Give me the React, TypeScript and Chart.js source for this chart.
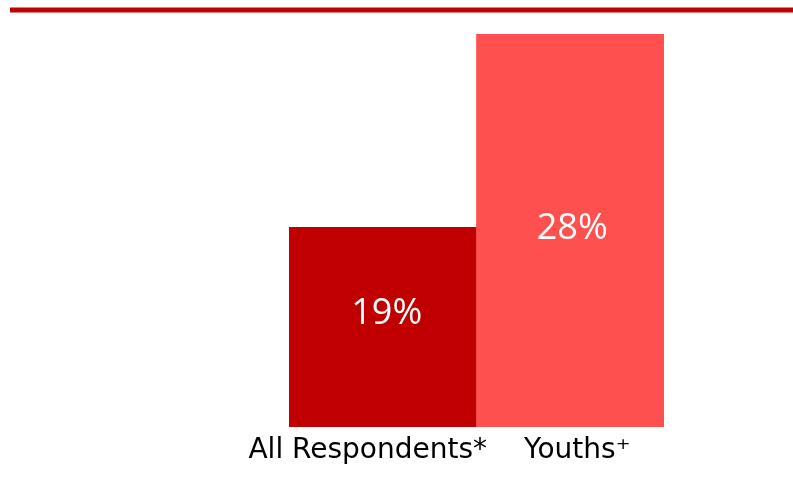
import React, { useEffect, useRef } from "react";
import { Chart, registerables } from "chart.js";

Chart.register(...registerables);

const categories = ["All Respondents*", "Youths\u207A"];
const values = [19, 28];
const valueLabels = ["19%", "28%"];
const barColors = ["#C00000", "#FF5050"];

const VALUE_FONT = "'Open Sans', sans-serif";
const CAT_FONT = "'DejaVu Sans', sans-serif";
const catOffsets = [-15, 7];
const valOffsets = [
  [4, -13],
  [2, -2],
];

const decorPlugin = {
  id: "decor",
  beforeDraw(chart: any) {
    const ctx = chart.ctx;
    ctx.save();
    ctx.fillStyle = "#ffffff";
    ctx.fillRect(0, 0, chart.width, chart.height);
    ctx.strokeStyle = "#C00000";
    ctx.lineWidth = 5;
    ctx.beginPath();
    ctx.moveTo(10, 10);
    ctx.lineTo(chart.width, 10);
    ctx.stroke();
    ctx.restore();
  },
  afterDatasetsDraw(chart: any) {
    const ctx = chart.ctx;
    const meta = chart.getDatasetMeta(0);
    const xScale = chart.scales.x;
    const bottom = chart.chartArea.bottom;
    ctx.save();
    ctx.textAlign = "center";
    meta.data.forEach((bar: any, i: number) => {
      const props = bar.getProps(["x", "y"], true);
      ctx.fillStyle = "#ffffff";
      ctx.font = `36px ${VALUE_FONT}`;
      ctx.textBaseline = "middle";
      ctx.fillText(
        valueLabels[i],
        props.x + valOffsets[i][0],
        (props.y + bottom) / 2 + valOffsets[i][1]
      );
      ctx.fillStyle = "#000000";
      ctx.font = `28px ${CAT_FONT}`;
      ctx.textBaseline = "alphabetic";
      ctx.fillText(categories[i], xScale.getPixelForValue(i) + catOffsets[i], bottom + 31);
    });
    ctx.restore();
  },
};

export default function App() {
  const ref = useRef<HTMLCanvasElement | null>(null);
  useEffect(() => {
    if (!ref.current) return;
    const chart = new Chart(ref.current, {
      type: "bar",
      data: {
        labels: categories,
        datasets: [
          {
            data: values,
            backgroundColor: barColors,
            borderWidth: 0,
            barPercentage: 1,
            categoryPercentage: 1,
          },
        ],
      },
      options: {
        responsive: false,
        animation: false,
        layout: { padding: { left: 289, right: 129, top: 34, bottom: 52 } },
        plugins: { legend: { display: false }, tooltip: { enabled: false } },
        scales: {
          x: { display: false, offset: true },
          y: { display: false, min: 9.7, max: 28 },
        },
      },
      plugins: [decorPlugin],
    });
    return () => chart.destroy();
  }, []);
  return (
    <div style={{ position: "fixed", left: 0, top: 0, width: 793, height: 479, background: "#fff" }}>
      <canvas ref={ref} width={793} height={479} style={{ width: 793, height: 479, display: "block" }} />
    </div>
  );
}
